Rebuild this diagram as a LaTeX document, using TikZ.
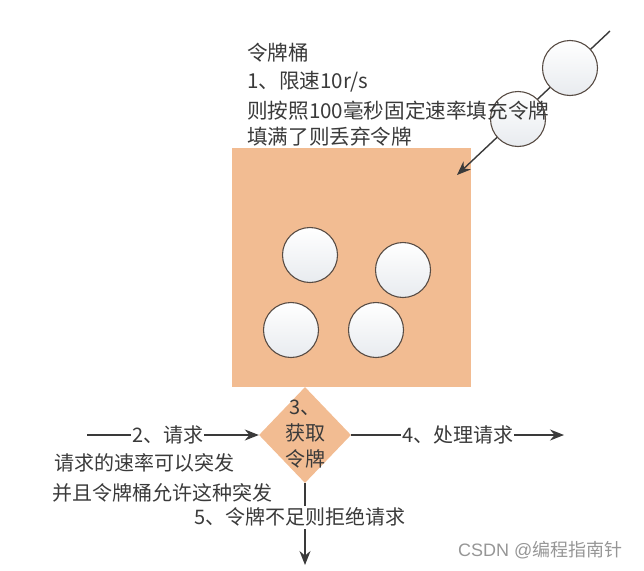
\documentclass[tikz,border=0pt]{standalone}
\usepackage{fontspec}
\setmainfont{Noto Sans CJK SC}
\newfontfamily\wmlatin{Liberation Sans}
\usetikzlibrary{shapes.geometric,arrows.meta}
\definecolor{bucket}{RGB}{242,188,146}
\definecolor{ink}{RGB}{58,58,58}
\definecolor{rim}{RGB}{88,76,68}
\definecolor{ballbot}{RGB}{232,235,239}
\definecolor{mark}{RGB}{150,150,150}
\tikzset{
  ball/.style={circle, draw=rim, line width=1.1pt, minimum size=55pt, inner sep=0pt, top color=white, bottom color=ballbot},
  txt/.style={font=\fontsize{20}{26}\selectfont, text=ink, inner sep=0pt},
  toptxt/.style={font=\fontsize{20.6}{26}\selectfont, text=ink, inner sep=0pt},
  lbl/.style={txt, fill=white, inner xsep=1pt, inner ysep=2pt},
  flow/.style={draw=ink, line width=1.4pt, -{Stealth[length=14pt,width=11pt]}}
}
\begin{document}
\begin{tikzpicture}[x=1pt,y=-1pt]
\useasboundingbox (0,0) rectangle (644,570);
% bucket
\node[fill=bucket, minimum width=239pt, minimum height=239pt, inner sep=0pt, anchor=north west] (bucket) at (232,148) {};
\node[ball] (b1) at (310,255) {};
\node[ball] (b2) at (403,270) {};
\node[ball] (b3) at (291,330) {};
\node[ball] (b4) at (376,330) {};
% feed
\coordinate (src) at (610,31);
\coordinate (drop) at (457,175);
\draw[flow] (src) -- (drop);
\node[ball] (fa) at (570,68) {};
\node[ball] (fb) at (518,119) {};
% title text
\node[toptxt, anchor=west] (t1) at (247,53) {令牌桶};
\node[toptxt, anchor=west] (t2) at (247,82) {1、限速10r/s};
\node[toptxt, anchor=west] (t3) at (247,111) {则按照100毫秒固定速率填充令牌};
\node[toptxt, anchor=west] (t4) at (247,137) {填满了则丢弃令牌};
% diamond
\node[diamond, fill=bucket, minimum width=92pt, minimum height=96pt, inner sep=0pt] (d) at (305,435) {};
\node[txt, align=center] (dt) at (305,434) {3、\\获取\\令牌};
% flows
\coordinate (inL) at (87,435);
\coordinate (outR) at (564,435);
\coordinate (outD) at (305,565);
\draw[flow] (inL) -- (d.west) node[pos=0.47, lbl] (l2) {2、请求};
\draw[flow] (d.east) -- (outR) node[midway, lbl] (l4) {4、处理请求};
\draw[flow] (d.south) -- (outD) node[pos=0.415, lbl, xshift=-5pt] (l5) {5、令牌不足则拒绝请求};
\node[txt, anchor=west] (n1) at (54,463) {请求的速率可以突发};
\node[txt, anchor=west] (n2) at (52,493) {并且令牌桶允许这种突发};
% watermark
\node[font=\fontsize{18}{20}\selectfont, text=mark, inner sep=0pt, anchor=west] (wm) at (458,550) {{\wmlatin CSDN @}编程指南针};
\end{tikzpicture}
\end{document}
